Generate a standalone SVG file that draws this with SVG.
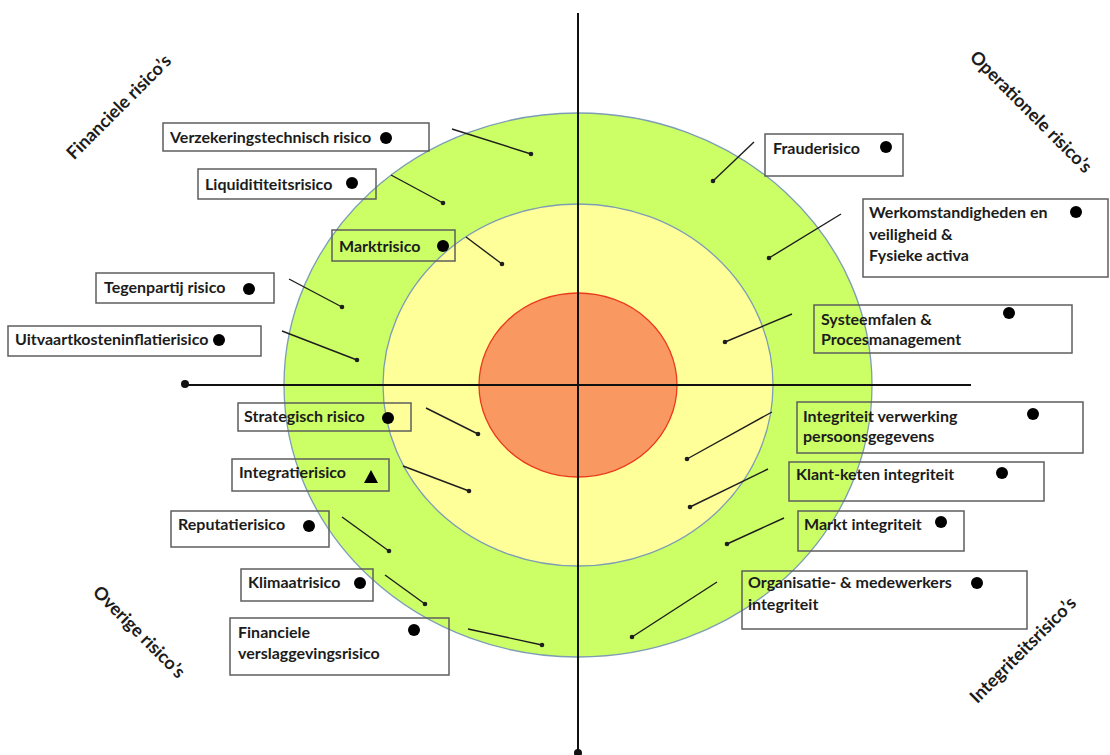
<svg xmlns="http://www.w3.org/2000/svg" width="1110" height="755" viewBox="0 0 1110 755">
<style>
.box{fill:none;stroke:#5e5e5e;stroke-width:1.5}
.lbl{font-family:Lato,"Liberation Sans",sans-serif;font-weight:700;font-size:16px;fill:#1c1c1c}
.cat{font-family:Lato,"Liberation Sans",sans-serif;font-weight:700;font-size:18px;fill:#1c1c1c;text-anchor:middle}
.mark{fill:#000}
.lead{stroke:#1e1e1e;stroke-width:1.4;fill:none}
.ldot{fill:#1e1e1e}
.axis{stroke:#111;stroke-width:2;fill:none}
</style>
<rect x="0" y="0" width="1110" height="755" fill="#ffffff"/>
<g id="rings">
<ellipse cx="578" cy="385" rx="294" ry="272" fill="#ccff66" stroke="#7d9db5" stroke-width="1.3"/>
<ellipse cx="578" cy="385" rx="195" ry="181" fill="#ffff99" stroke="#7d9db5" stroke-width="1.3"/>
<ellipse cx="578" cy="385" rx="99" ry="92" fill="#f99861" stroke="#ea3a1e" stroke-width="1.3"/>
</g>
<g id="axes">
<line class="axis" x1="578" y1="13" x2="578" y2="753"/>
<circle cx="578" cy="753" r="4" fill="#111"/>
<line class="axis" x1="185" y1="385" x2="971" y2="385"/>
<circle cx="185" cy="384" r="4" fill="#111"/>
</g>
<g id="categories">
<text class="cat" x="119" y="113" transform="rotate(-45 119 107)">Financiele risico’s</text>
<text class="cat" x="1031" y="118" transform="rotate(45 1031 112)">Operationele risico’s</text>
<text class="cat" x="139" y="638" transform="rotate(45 139 632)">Overige risico’s</text>
<text class="cat" x="1023" y="656" transform="rotate(-45 1023 650)">Integriteitsrisico’s</text>
</g>
<g id="connectors">
<line class="lead" x1="452" y1="129" x2="531" y2="154"/><circle class="ldot" cx="531" cy="154" r="2.3"/>
<line class="lead" x1="391" y1="175" x2="443" y2="203"/><circle class="ldot" cx="443" cy="203" r="2.3"/>
<line class="lead" x1="466" y1="237" x2="502" y2="264"/><circle class="ldot" cx="502" cy="264" r="2.3"/>
<line class="lead" x1="289" y1="279" x2="342" y2="307"/><circle class="ldot" cx="342" cy="307" r="2.3"/>
<line class="lead" x1="282" y1="331" x2="357" y2="360"/><circle class="ldot" cx="357" cy="360" r="2.3"/>
<line class="lead" x1="754" y1="142" x2="713" y2="181"/><circle class="ldot" cx="713" cy="181" r="2.3"/>
<line class="lead" x1="841" y1="214" x2="769" y2="258"/><circle class="ldot" cx="769" cy="258" r="2.3"/>
<line class="lead" x1="792" y1="314" x2="725" y2="342"/><circle class="ldot" cx="725" cy="342" r="2.3"/>
<line class="lead" x1="772" y1="412" x2="687" y2="459"/><circle class="ldot" cx="687" cy="459" r="2.3"/>
<line class="lead" x1="768" y1="469" x2="690" y2="507"/><circle class="ldot" cx="690" cy="507" r="2.3"/>
<line class="lead" x1="784" y1="518" x2="727" y2="544"/><circle class="ldot" cx="727" cy="544" r="2.3"/>
<line class="lead" x1="717" y1="582" x2="632" y2="637"/><circle class="ldot" cx="632" cy="637" r="2.3"/>
<line class="lead" x1="426" y1="408" x2="478" y2="434"/><circle class="ldot" cx="478" cy="434" r="2.3"/>
<line class="lead" x1="403" y1="466" x2="469" y2="491"/><circle class="ldot" cx="469" cy="491" r="2.3"/>
<line class="lead" x1="342" y1="517" x2="389" y2="551"/><circle class="ldot" cx="389" cy="551" r="2.3"/>
<line class="lead" x1="385" y1="575" x2="425" y2="604"/><circle class="ldot" cx="425" cy="604" r="2.3"/>
<line class="lead" x1="468" y1="629" x2="542" y2="645"/><circle class="ldot" cx="542" cy="645" r="2.3"/>
</g>
<g id="verzekeringstechnisch">
<rect class="box" x="163" y="123" width="266" height="28"/>
<text class="lbl" x="170" y="143">Verzekeringstechnisch risico</text>
<circle class="mark" cx="386" cy="138" r="6"/>
</g>
<g id="liquiditeit">
<rect class="box" x="198" y="169" width="178" height="30"/>
<text class="lbl" x="205" y="190">Liquidititeitsrisico</text>
<circle class="mark" cx="352" cy="183" r="6"/>
</g>
<g id="markt">
<rect class="box" x="332" y="230" width="123" height="31"/>
<text class="lbl" x="339" y="252">Marktrisico</text>
<circle class="mark" cx="443" cy="246" r="6"/>
</g>
<g id="tegenpartij">
<rect class="box" x="96" y="273" width="178" height="30"/>
<text class="lbl" x="104" y="293">Tegenpartij risico</text>
<circle class="mark" cx="249" cy="289" r="6"/>
</g>
<g id="uitvaart">
<rect class="box" x="8" y="326" width="253" height="30"/>
<text class="lbl" x="15" y="345">Uitvaartkosteninflatierisico</text>
<circle class="mark" cx="219" cy="340" r="6"/>
</g>
<g id="fraude">
<rect class="box" x="765" y="134" width="138" height="42"/>
<text class="lbl" x="773" y="154">Frauderisico</text>
<circle class="mark" cx="886" cy="147" r="6"/>
</g>
<g id="werkomstandigheden">
<rect class="box" x="863" y="199" width="245" height="78"/>
<text class="lbl" x="869" y="218">Werkomstandigheden en</text>
<text class="lbl" x="869" y="240">veiligheid &amp;</text>
<text class="lbl" x="869" y="261">Fysieke activa</text>
<circle class="mark" cx="1076" cy="212" r="6"/>
</g>
<g id="systeemfalen">
<rect class="box" x="814" y="305" width="258" height="48"/>
<text class="lbl" x="821" y="325">Systeemfalen &amp;</text>
<text class="lbl" x="821" y="345">Procesmanagement</text>
<circle class="mark" cx="1009" cy="313" r="6"/>
</g>
<g id="integriteit-verwerking">
<rect class="box" x="797" y="402" width="286" height="51"/>
<text class="lbl" x="803" y="422">Integriteit verwerking</text>
<text class="lbl" x="803" y="442">persoonsgegevens</text>
<circle class="mark" cx="1033" cy="414" r="6"/>
</g>
<g id="klant-keten">
<rect class="box" x="789" y="462" width="255" height="39"/>
<text class="lbl" x="796" y="480">Klant-keten integriteit</text>
<circle class="mark" cx="1002" cy="473" r="6"/>
</g>
<g id="markt-integriteit">
<rect class="box" x="798" y="511" width="166" height="40"/>
<text class="lbl" x="804" y="530">Markt integriteit</text>
<circle class="mark" cx="941" cy="522" r="6"/>
</g>
<g id="organisatie">
<rect class="box" x="742" y="571" width="285" height="58"/>
<text class="lbl" x="748" y="588">Organisatie- &amp; medewerkers</text>
<text class="lbl" x="748" y="610">integriteit</text>
<circle class="mark" cx="977" cy="583" r="6"/>
</g>
<g id="strategisch">
<rect class="box" x="238" y="403" width="173" height="28"/>
<text class="lbl" x="244" y="422">Strategisch risico</text>
<circle class="mark" cx="388" cy="418" r="6"/>
</g>
<g id="integratie">
<rect class="box" x="232" y="459" width="157" height="32"/>
<text class="lbl" x="239" y="478">Integratierisico</text>
<polygon class="mark" points="364,483 378,483 371,470"/>
</g>
<g id="reputatie">
<rect class="box" x="171" y="511" width="158" height="36"/>
<text class="lbl" x="178" y="530">Reputatierisico</text>
<circle class="mark" cx="309" cy="526" r="6"/>
</g>
<g id="klimaat">
<rect class="box" x="241" y="569" width="132" height="32"/>
<text class="lbl" x="248" y="588">Klimaatrisico</text>
<circle class="mark" cx="360" cy="583" r="6"/>
</g>
<g id="financiele-verslaggeving">
<rect class="box" x="230" y="618" width="219" height="57"/>
<text class="lbl" x="238" y="638">Financiele</text>
<text class="lbl" x="238" y="659">verslaggevingsrisico</text>
<circle class="mark" cx="414" cy="630" r="6"/>
</g>
</svg>
